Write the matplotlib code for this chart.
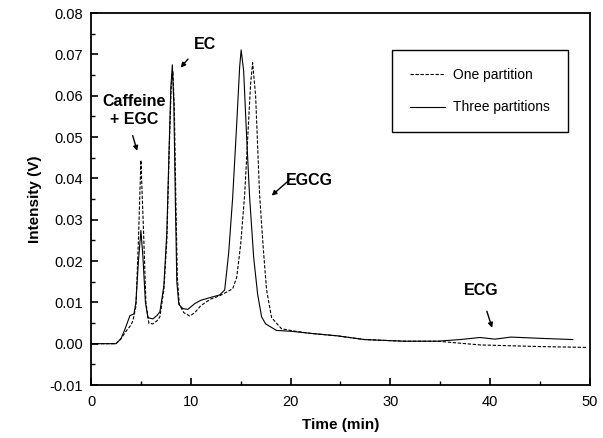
import numpy as np
import matplotlib
matplotlib.use("Agg")
import matplotlib.pyplot as plt
from matplotlib.ticker import MultipleLocator, FormatStrFormatter

plt.rcParams["font.family"] = ["Liberation Sans", "DejaVu Sans"]

# one partition (dashed)
t_one = [0, 2.5, 3.0, 3.5, 4.0, 4.2, 4.5, 4.75, 5.0, 5.25, 5.5, 5.8, 6.2, 6.6, 6.9,
         7.3, 7.6, 7.85, 8.05, 8.2, 8.35, 8.5, 8.65, 8.85, 9.3, 9.9, 10.4, 11.0, 12.0,
         12.9, 13.6, 14.2, 14.6, 15.0, 15.4, 15.8, 16.0, 16.2, 16.5, 16.9, 17.3, 17.6,
         18.1, 19.1, 20.5, 22.0, 24.7, 27.4, 31.3, 34.7, 39.0, 42.0, 45.0, 49.7]
y_one = [0.0, 0.0, 0.0012, 0.003, 0.0045, 0.0056, 0.009, 0.025, 0.0444, 0.028, 0.010,
         0.0049, 0.0048, 0.0055, 0.0065, 0.013, 0.025, 0.048, 0.063, 0.066, 0.057, 0.035,
         0.016, 0.0095, 0.0075, 0.0067, 0.0075, 0.0092, 0.0108, 0.0116, 0.0125, 0.0133,
         0.016, 0.024, 0.036, 0.054, 0.063, 0.068, 0.060, 0.036, 0.022, 0.013, 0.0063,
         0.0036, 0.0030, 0.0025, 0.0019, 0.0010, 0.0006, 0.0006, -0.0003, -0.0005,
         -0.0007, -0.0009]

# three partitions (solid)
t_three = [0, 2.5, 3.0, 3.4, 3.9, 4.3, 4.5, 4.75, 5.0, 5.2, 5.45, 5.7, 6.2, 6.6, 6.9,
           7.3, 7.6, 7.8, 8.0, 8.15, 8.3, 8.45, 8.6, 8.8, 9.2, 9.7, 10.4, 11.0, 12.0,
           12.9, 13.4, 13.8, 14.2, 14.6, 14.9, 15.05, 15.3, 15.6, 15.9, 16.3, 16.7, 17.1,
           17.5, 18.6, 20.1, 22.0, 24.7, 27.4, 31.3, 34.7, 37.0, 39.0, 40.5, 42.1, 45.0,
           48.3]
y_three = [0.0, 0.0, 0.0012, 0.0035, 0.0068, 0.0072, 0.010, 0.020, 0.0274, 0.021,
           0.010, 0.0063, 0.0060, 0.0068, 0.0077, 0.014, 0.027, 0.045, 0.062, 0.0675,
           0.058, 0.035, 0.015, 0.0095, 0.0085, 0.0083, 0.0097, 0.0105, 0.0112, 0.0118,
           0.013, 0.022, 0.0354, 0.053, 0.067, 0.0711, 0.066, 0.050, 0.0354, 0.021,
           0.012, 0.0065, 0.0048, 0.0032, 0.0030, 0.0025, 0.0019, 0.0010, 0.0006, 0.0006,
           0.0010, 0.0015, 0.0011, 0.0016, 0.0013, 0.0010]

x_ticks = [0, 10, 20, 30, 40, 50]


def main():
    fig = plt.figure(figsize=(6.03, 4.38), dpi=100)
    ax = fig.add_axes([0.151, 0.121, 0.827, 0.849])

    ax.plot(t_one, y_one, color="black", lw=0.8, ls=(0, (3, 1.5)), label="One partition")
    ax.plot(t_three, y_three, color="black", lw=0.8, label="Three partitions")

    ax.set_xlim(0, 50)
    ax.set_ylim(-0.01, 0.08)
    ax.set_xticks(x_ticks)
    ax.xaxis.set_minor_locator(MultipleLocator(5))
    ax.yaxis.set_major_locator(MultipleLocator(0.01))
    ax.yaxis.set_minor_locator(MultipleLocator(0.005))
    ax.yaxis.set_major_formatter(FormatStrFormatter("%.2f"))
    ax.tick_params(which="both", direction="in", top=False, right=False, labelsize=10.5)
    ax.tick_params(axis="x", which="major", pad=7)
    ax.tick_params(axis="y", which="major", pad=6)
    ax.tick_params(which="major", length=5, width=1.2)
    ax.tick_params(which="minor", length=3, width=1)
    for s in ax.spines.values():
        s.set_linewidth(1.3)

    ax.set_xlabel("Time (min)", fontsize=11, fontweight="bold", labelpad=7)
    ax.set_ylabel("Intensity (V)", fontsize=11, fontweight="bold", labelpad=5)

    arrow = dict(arrowstyle="-|>", color="black", lw=1, mutation_scale=7)
    kw = dict(fontsize=11.5, fontweight="bold", ha="center", va="center")
    ax.annotate("", xy=(8.8, 0.0663), xytext=(9.9, 0.0694), arrowprops=arrow)
    ax.text(11.4, 0.0724, "EC", **kw)
    ax.annotate("", xy=(4.7, 0.046), xytext=(4.1, 0.051), arrowprops=arrow)
    ax.text(4.3, 0.0565, "Caffeine\n+ EGC", linespacing=1.25, **kw)
    ax.annotate("", xy=(17.9, 0.0354), xytext=(20.2, 0.0403), arrowprops=arrow)
    ax.text(21.9, 0.0395, "EGCG", **kw)
    ax.annotate("", xy=(40.3, 0.0032), xytext=(39.6, 0.0085), arrowprops=arrow)
    ax.text(39.1, 0.0129, "ECG", **kw)

    leg = ax.legend(loc="upper left", bbox_to_anchor=(0.604, 0.902), fontsize=10,
                    frameon=True, fancybox=False, edgecolor="black", framealpha=1,
                    handlelength=2.5, handletextpad=0.6, borderpad=1.3,
                    labelspacing=1.35, borderaxespad=0)
    leg.get_frame().set_linewidth(1.0)

    fig.savefig("out.png", dpi=100)


if __name__ == "__main__":
    main()
